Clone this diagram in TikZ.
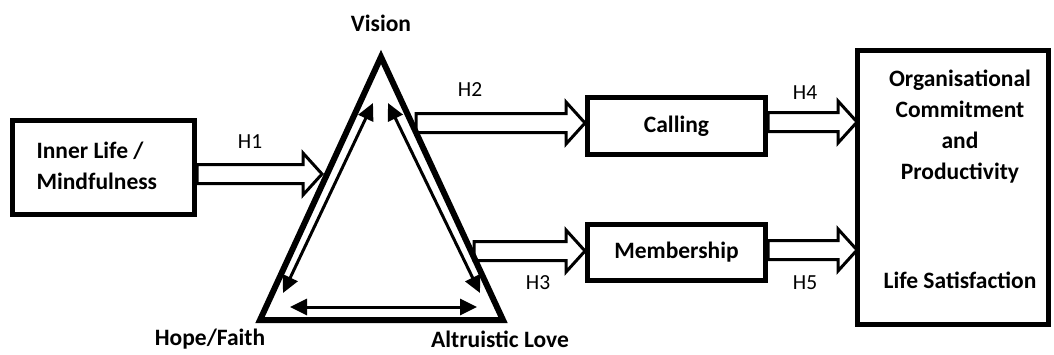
\documentclass[tikz,border=0pt]{standalone}
\usepackage{fontspec}
\setmainfont{Carlito}
\usetikzlibrary{positioning}
\usetikzlibrary{arrows.meta}
\usetikzlibrary{calc}

% hollow block arrow from #1 to the tip #2 (horizontal)
\newcommand\fatarrow[2]{%
  \draw[fatline] let \p1=(#1), \p2=(#2) in
    (\x1,\y2+9.5pt) -- (\x2-19pt,\y2+9.5pt) -- (\x2-19pt,\y2+21pt) -- (\x2,\y2)
    -- (\x2-19pt,\y2-21pt) -- (\x2-19pt,\y2-9.5pt) -- (\x1,\y2-9.5pt) -- cycle;}

\begin{document}
\begin{tikzpicture}[x=1pt, y=-1pt,
  box/.style={draw, line width=5pt, inner sep=0pt},
  bold/.style={font=\fontsize{23.5}{31}\selectfont\bfseries, align=center},
  hlabel/.style={font=\fontsize{21.5}{25}\selectfont},
  fatline/.style={draw, line width=3pt, line join=miter},
  link/.style={line width=3pt, {Triangle[length=17pt,width=16pt]}-{Triangle[length=17pt,width=16pt]}}]
\useasboundingbox (0,0) rectangle (1054,354);

% boxes
\node[box, minimum width=182pt, minimum height=94pt] (inner) at (103.5,167.5) {};
\node[bold, align=left, anchor=west] (innertxt) at (33,166) {Inner Life /\\Mindfulness};
\node[box, minimum width=178pt, minimum height=57pt, bold] (calling) at (676.5,126) {Calling};
\node[box, minimum width=178pt, minimum height=56pt, bold] (member) at (676.5,252.5) {Membership};
\node[box, minimum width=191pt, minimum height=274pt] (outcome) at (953,187.5) {};
\node[bold] (commit) at (960,127) {Organisational\\Commitment\\and\\Productivity};
\node[bold] (life) at (960,280) {Life Satisfaction};

% triangle
\coordinate (top) at (381,57);
\coordinate (left) at (260,320);
\coordinate (right) at (503,320);
\draw[line width=6pt, line join=miter] (top) -- (left) -- (right) -- cycle;
\node[bold] (vision) at (381,23) {Vision};
\node[bold] (hope) at (210,339) {Hope/Faith};
\node[bold] (love) at (500,339) {Altruistic Love};

% arrows inside the triangle
\coordinate (lv) at (373,103);
\coordinate (lh) at (283,293);
\coordinate (rv) at (388,103);
\coordinate (rl) at (480,293);
\coordinate (bh) at (290,307);
\coordinate (bl) at (477,307);
\draw[link] (lh) -- (lv);
\draw[link] (rv) -- (rl);
\draw[link] (bh) -- (bl);

% hypotheses
\coordinate (h1) at (322,174);
\coordinate (h2) at (416,123);
\coordinate (h3) at (474,251);
\coordinate (h4) at (857,122);
\coordinate (h5) at (857,250);
\fatarrow{inner.east |- h1}{h1}
\fatarrow{h2}{h2 -| calling.west}
\fatarrow{h3}{h3 -| member.west}
\fatarrow{calling.east |- h4}{h4}
\fatarrow{member.east |- h5}{h5}
\node[hlabel] (l1) at (250,142) {H1};
\node[hlabel] (l2) at (470,90) {H2};
\node[hlabel] (l3) at (538,283) {H3};
\node[hlabel] (l4) at (805,93) {H4};
\node[hlabel] (l5) at (805,283) {H5};
\end{tikzpicture}
\end{document}
